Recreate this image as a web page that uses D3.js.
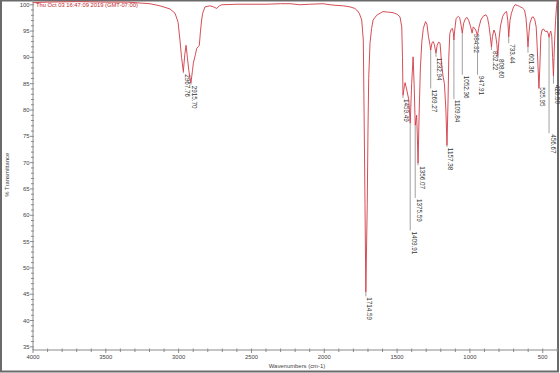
<!DOCTYPE html>
<html><head><meta charset="utf-8">
<script src="https://cdn.jsdelivr.net/npm/d3@7"></script>
<style>
html,body{margin:0;padding:0;background:#fff;}
svg{display:block;font-family:"Liberation Sans",Arial,sans-serif;}
</style></head>
<body><svg id="c" width="560" height="373"></svg>
<script>
// ---- data ----
const wavenumbers = [4000,3900,3700,3500,3350,3250,3197,3128,3059,3025,3004,2991,2980,2967.76,2958,2949,2940,2930,2915.70,2905,2899,2885,2876,2866,2858,2850,2842,2835,2819,2785,2760,2739,2720,2704,2600,2510,2400,2300,2235,2167,2100,2009,1960,1926,1870,1823,1790,1777,1760,1743,1732,1724,1714.59,1705,1700,1695,1686,1675,1665,1640,1617,1597,1560,1528,1500,1480,1468,1463,1459.49,1450,1445,1435,1420,1409.91,1400,1390,1382,1375.59,1366,1362,1356.07,1348,1340,1330,1320,1305,1295,1285,1275,1269.27,1260,1252,1245,1232.94,1225,1215,1205,1195,1185,1175,1165,1157.38,1150,1145,1138,1130,1120,1113,1109.84,1105,1095,1080,1070,1060,1052.36,1043,1030,1020,1008,995,984.92,977,970,960,947.91,940,925,910,890,880,870,860,852.22,845,835,825,815,808.60,800,790,775,760,748,740,733.44,725,715,700,690,675,660,640,625,615,608,601.36,595,588,575,565,555,545,538,532,525.95,520,513,505,495,485,478,470,462,456.67,452,445,438,432,426.50,420,412,405,400];
const transmittance = [100.4,100.5,100.6,100.5,100.5,100.3,100.2,99.8,99.2,98.4,96.7,93.3,90,87.3,90.5,92.3,90,87.5,85.1,87.5,88.9,90.5,91.7,92.0,92.3,95.0,97.1,98.4,99.6,99.8,99.6,99.3,99.8,100,100.1,100.1,100.1,100.2,100.2,100,100.1,100.2,100,99.9,99.8,99.6,99.3,99.0,98.4,97.1,93.3,72.4,45.4,62,76,86,92.7,95.5,97.1,98.0,98.4,98.7,98.6,98.5,98.2,97.7,95.8,90,82.8,84.5,85.2,84,82,77.5,85,90.1,84,77.1,79,76,69.9,80,88,93,95.5,96.8,96.3,94,92.5,91.4,92.8,93,92.5,90.8,92.3,92.9,92.7,89,86.5,85,80,73.3,82,90,94.5,95.3,95.5,94.5,93.3,95,97.4,97.8,97.5,96,94.6,96.5,97.4,97.6,97,95.8,94.6,95.8,95.6,95.2,94.2,95.5,97.1,97.8,98.1,97.6,96.2,94,92.0,94,95.2,94.5,92.5,90.4,93.5,96,97.8,98.5,98.7,97,93.9,97,98.4,99.6,100,99.9,99.7,99.4,99,97.5,95,92.0,94.5,96.5,97.6,97.7,97.2,95.8,92,88,84.1,88,94,95.2,95.4,95,94.9,95,94.5,93.8,94.5,95,94,90,86.5,92,97,99.8,100.9];
// peak labels: wavenumber and the transmittance level where the label text begins
const peakWn = [2967.76,2915.70,1714.59,1459.49,1409.91,1375.59,1356.07,1269.27,1232.94,1157.38,1109.84,1052.36,984.92,947.91,852.22,808.60,733.44,601.36,525.95,456.67,426.50];
const peakLabelT = [87.0,84.8,44.6,82.3,57.1,63.3,69.5,84.1,90.1,73.0,82.1,86.7,94.7,86.7,91.4,89.9,92.7,90.9,84.5,75.6,85.0];
const xTicks = [4000,3500,3000,2500,2000,1500,1000,500];
const yTicks = [35,40,45,50,55,60,65,70,75,80,85,90,95,100];
const headerText = "Thu Oct 03 16:47:09 2019 (GMT-07:00)";
const xTitle = "Wavenumbers (cm-1)";
const yTitle = "% Transmittance";

const svg = d3.select("#c");
const x = d3.scaleLinear().domain([4000,400]).range([33,557.3]);
const y = d3.scaleLinear().domain([34.4,101]).range([350,-0.5]);

// outer frame
svg.append("rect").attr("x",1).attr("y",0.5).attr("width",557).attr("height",371)
  .attr("fill","none").attr("stroke","#6a6a6a").attr("stroke-width",2);

const axCol = "#8a8a8a";
const fs = 5.9;
// x axis
const xMinor = d3.range(4000,399,-100);
svg.append("g").selectAll("line").data(xMinor).join("line")
  .attr("x1",d=>x(d)).attr("x2",d=>x(d)).attr("y1",y(34.4)-1.5).attr("y2",d=>y(34.4)+(d%500===0?3:2))
  .attr("stroke",axCol).attr("stroke-width",1);
svg.append("line").attr("x1",x(4000)).attr("x2",x(400)).attr("y1",y(34.4)).attr("y2",y(34.4))
  .attr("stroke",axCol).attr("stroke-width",1);
svg.append("g").selectAll("text").data(xTicks).join("text")
  .attr("x",d=>x(d)).attr("y",y(34.4)+9).attr("text-anchor","middle")
  .attr("font-size",fs).attr("fill","#444").text(d=>d);
svg.append("text").attr("x",297).attr("y",368).attr("text-anchor","middle")
  .attr("font-size",fs).attr("fill","#444").text(xTitle);

// y axis
const yMinor = d3.range(35,101,1);
svg.append("g").selectAll("line").data(yMinor).join("line")
  .attr("x1",d=>x(4000)-(d%5===0?3:2)).attr("x2",x(4000)+1).attr("y1",d=>y(d)).attr("y2",d=>y(d))
  .attr("stroke",axCol).attr("stroke-width",1);
svg.append("line").attr("x1",x(4000)).attr("x2",x(4000)).attr("y1",y(34.4)).attr("y2",y(101))
  .attr("stroke",axCol).attr("stroke-width",1);
svg.append("g").selectAll("text").data(yTicks).join("text")
  .attr("x",x(4000)-3.5).attr("y",d=>y(d)+2.1).attr("text-anchor","end")
  .attr("font-size",fs).attr("fill","#444").text(d=>d);
svg.append("text").attr("transform",`translate(9,${(y(34.4)+y(101))/2}) rotate(-90)`)
  .attr("text-anchor","middle").attr("font-size",fs).attr("fill","#444").text(yTitle);

// header
svg.append("text").attr("x",x(4000)+3).attr("y",y(100)+2.5).attr("font-size",5.8)
  .attr("fill","#c0282d").text(headerText);

// peak marker lines and labels
const data = wavenumbers.map((w,i)=>({w,t:transmittance[i]}));
const tAt = w => { const k = wavenumbers.indexOf(w); return k>=0 ? transmittance[k] : null; };
const g = svg.append("g");
peakWn.forEach((w,i)=>{
  const pt = tAt(w);
  const y0 = y(pt), y1 = y(peakLabelT[i]);
  if (y1 - y0 > 1) g.append("line").attr("x1",x(w)).attr("x2",x(w)).attr("y1",y0).attr("y2",y1)
      .attr("stroke","#a0a0a0").attr("stroke-width",1);
  g.append("text").attr("transform",`translate(${x(w)+1.5},${y1+1}) rotate(90)`)
    .attr("font-size",6.3).attr("fill","#333").text(w.toFixed(2));
});

// spectrum
svg.append("path").datum(data)
  .attr("d",d3.line().x(d=>x(d.w)).y(d=>y(d.t)))
  .attr("fill","none").attr("stroke","#d03a44").attr("stroke-width",0.9);
</script></body></html>
